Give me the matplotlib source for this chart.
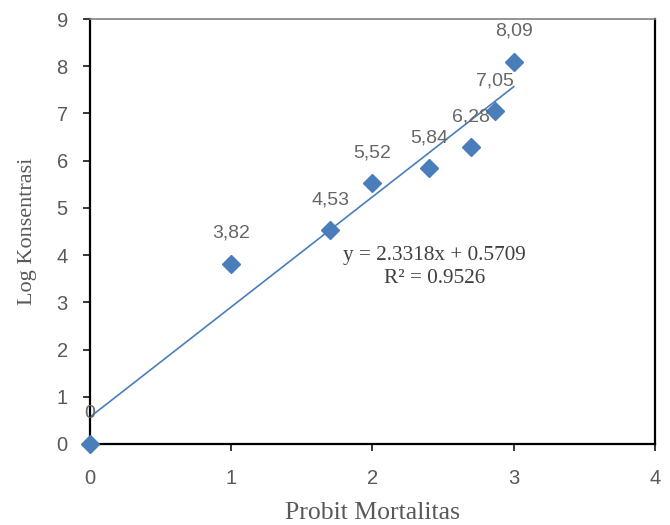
import numpy as np
import matplotlib

matplotlib.use("Agg")
import matplotlib.pyplot as plt

# Probit mortality vs log concentration
probit = [0, 1, 1.7, 2, 2.4, 2.7, 2.87, 3]
log_konsentrasi = [0, 3.82, 4.53, 5.52, 5.84, 6.28, 7.05, 8.09]
point_labels = ["0", "3,82", "4,53", "5,52", "5,84", "6,28", "7,05", "8,09"]
slope, intercept = 2.3318, 0.5709
r2 = 0.9526
x_ticks = [0, 1, 2, 3, 4]
y_ticks = [0, 1, 2, 3, 4, 5, 6, 7, 8, 9]

BLUE = "#4A7EBB"
GRAY = "#595959"
SANS = "Liberation Sans"
SERIF = "Liberation Serif"

fig = plt.figure(figsize=(6.7, 5.25), dpi=100)
ax = fig.add_axes([0.1343, 0.1543, 0.8433, 0.8095])

# linear trendline over the data range
xt = np.array([min(probit), max(probit)])
ax.plot(xt, slope * xt + intercept, color=BLUE, lw=1.2, zorder=2)
ax.plot(probit, log_konsentrasi, ls="none", marker="D", ms=9, color=BLUE,
        zorder=3, clip_on=False)

for x, y, s in zip(probit, log_konsentrasi, point_labels):
    ax.annotate(s, (x, y), xytext=(0, 22), textcoords="offset points",
                ha="center", va="center", fontsize=14, color="#666666",
                family=SANS, zorder=4)

ax.text(2.44, 4.0, f"y = {slope}x + {intercept}", ha="center", va="center",
        fontsize=15.3, color="#404040", family=SERIF)
ax.text(2.44, 3.5, f"R² = {r2}", ha="center", va="center",
        fontsize=15.3, color="#404040", family=SERIF)

ax.set_xlim(0, 4)
ax.set_ylim(0, 9)
ax.set_xticks(x_ticks)
ax.set_yticks(y_ticks)
ax.tick_params(direction="out", length=5, width=1.1, color="black",
               labelsize=14.5, labelcolor=GRAY, pad=13)
ax.tick_params(axis="y", pad=11)
for lab in ax.get_xticklabels() + ax.get_yticklabels():
    lab.set_family(SANS)
for side in ("left", "bottom", "right"):
    ax.spines[side].set_linewidth(1.6)
    ax.spines[side].set_color("black")
ax.spines["top"].set_linewidth(1.2)
ax.spines["top"].set_color("#808080")

ax.set_xlabel("Probit Mortalitas", fontsize=18.5, family=SERIF, color=GRAY,
              labelpad=10)
ax.set_ylabel("Log Konsentrasi", fontsize=16, family=SERIF, color=GRAY,
              labelpad=14)

fig.savefig("out.png", dpi=100)
